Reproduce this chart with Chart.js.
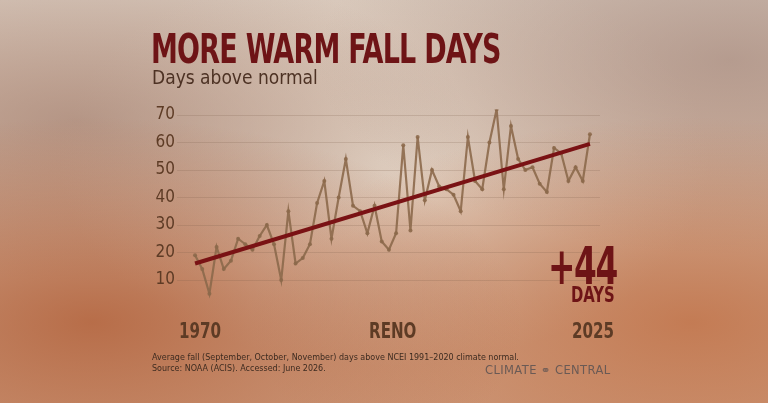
<!DOCTYPE html>
<html lang="en">
<head>
<meta charset="UTF-8">
<script src="https://cdn.jsdelivr.net/npm/chart.js@4"></script>
<style>
  body { margin: 0; }
  #wrap {
    position: relative; width: 768px; height: 403px; overflow: hidden;
    background:
      radial-gradient(ellipse at 12% 80%, rgba(175,90,50,0.75), transparent 45%),
      radial-gradient(ellipse at 90% 80%, rgba(190,105,60,0.7), transparent 45%),
      radial-gradient(ellipse at 95% 15%, rgba(150,120,110,0.5), transparent 40%),
      radial-gradient(ellipse at 10% 30%, rgba(160,125,110,0.6), transparent 40%),
      radial-gradient(ellipse at 50% 40%, rgba(228,214,200,0.9), transparent 60%),
      linear-gradient(#d6c5b8, #cf9f82);
    font-family: "DejaVu Sans Condensed", "DejaVu Sans", sans-serif;
  }
  canvas { position: absolute; left: 0; top: 0; }
  .t { position: absolute; white-space: nowrap; transform-origin: left; }
  #title { left: 151px; top: 26px; font-size: 40px; font-weight: bold; color: #6e1416; letter-spacing: -1px; transform: scaleX(0.75); }
  #sub { left: 152px; top: 66px; font-size: 19px; color: #4d3224; }
  .ax { top: 319px; font-size: 21px; font-weight: bold; color: #5d3b25; transform: scaleX(0.8); }
  #big { left: 548px; top: 236px; font-size: 52px; font-weight: bold; color: #6e1416; letter-spacing: -2px; transform: scaleX(0.7); }
  #days { left: 571px; top: 282px; font-size: 22px; font-weight: bold; color: #6e1416; transform: scaleX(0.75); }
  #note { left: 152px; top: 352px; font-size: 8px; line-height: 11px; color: #3d2b20; font-family: "DejaVu Sans", sans-serif; }
  #logo { left: 485px; top: 363px; font-size: 11.5px; letter-spacing: 0.4px; color: #6a5a55; font-family: "DejaVu Sans", sans-serif; }
</style>
</head>
<body>
<div id="wrap">
  <canvas id="c" width="768" height="403"></canvas>
  <div class="t" id="title">MORE WARM FALL DAYS</div>
  <div class="t" id="sub">Days above normal</div>
  <div class="t ax" style="left:179px">1970</div>
  <div class="t ax" style="left:369px">RENO</div>
  <div class="t ax" style="left:572px">2025</div>
  <div class="t" id="big">+44</div>
  <div class="t" id="days">DAYS</div>
  <div class="t" id="note">Average fall (September, October, November) days above NCEI 1991–2020 climate normal.<br>Source: NOAA (ACIS). Accessed: June 2026.</div>
  <div class="t" id="logo">CLIMATE ⚭ CENTRAL</div>
</div>
<script>
// data
const years = [];
for (let y = 1970; y <= 2025; y++) years.push(y);
const daysAbove = [19, 14, 5, 22, 14, 17, 25, 23, 21, 26, 30, 23, 10, 35, 16, 18, 23, 38, 46, 25,
  40, 54, 37, 35, 27, 37, 24, 21, 27, 59, 28, 62, 39, 50, 44, 43, 41, 35, 62, 46,
  43, 60, 72, 43, 66, 54, 50, 51, 45, 42, 58, 56, 46, 51, 46, 63];
const trendYears = [1970, 2025];
const trendValues = [16, 59.5];
const yTicks = [10, 20, 30, 40, 50, 60, 70];

new Chart(document.getElementById('c'), {
  type: 'line',
  data: {
    datasets: [
      {
        data: trendYears.map((x, i) => ({ x: x, y: trendValues[i] })),
        borderColor: '#7a1214', borderWidth: 4, pointRadius: 0
      },
      {
        data: years.map((x, i) => ({ x: x, y: daysAbove[i] })),
        borderColor: 'rgba(140,105,75,0.9)', borderWidth: 2.2,
        pointRadius: 2, pointBackgroundColor: 'rgba(140,105,75,0.9)', pointBorderWidth: 0
      }
    ]
  },
  options: {
    responsive: false, animation: false,
    layout: { padding: { left: 140, right: 168, top: 109.5, bottom: 95.5 } },
    plugins: { legend: { display: false }, tooltip: { enabled: false } },
    scales: {
      x: { type: 'linear', min: 1968.6, max: 2026.4, display: false },
      y: {
        min: 0, max: 72,
        afterFit: s => { s.width = 45; },
        afterBuildTicks: s => { s.ticks = yTicks.map(v => ({ value: v })); },
        border: { display: false },
        grid: { color: 'rgba(120,90,70,0.2)', tickLength: 8, drawTicks: true },
        ticks: {
          padding: 2, color: '#5d3b25',
          font: { family: 'DejaVu Sans Condensed', size: 17 }
        }
      }
    }
  }
});
</script>
</body>
</html>
